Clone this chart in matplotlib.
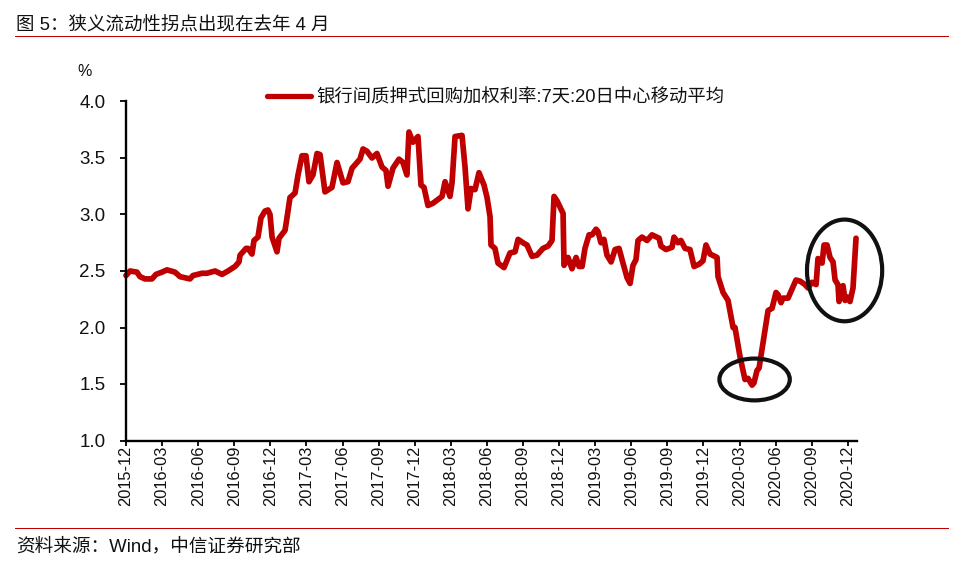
# -*- encoding: utf-8 -*-
"""
Interbank pledged repo rate, 20 day moving average.
"""
import matplotlib
matplotlib.use('Agg')
import matplotlib.pyplot as plt
from matplotlib.patches import Ellipse, Rectangle

plt.rcParams['font.family'] = ['Liberation Sans', 'Noto Sans CJK SC']

title = '图 5\uff1a狭义流动性拐点出现在去年 4 月'
source = '资料来源\uff1aWind\uff0c中信证券研究部'
series_name = '银行间质押式回购加权利率:7天:20日中心移动平均'

tick_labels = ['2015-12', '2016-03', '2016-06', '2016-09', '2016-12', '2017-03', '2017-06',
               '2017-09', '2017-12', '2018-03', '2018-06', '2018-09', '2018-12', '2019-03',
               '2019-06', '2019-09', '2019-12', '2020-03', '2020-06', '2020-09', '2020-12']
y_ticks = [1.0, 1.5, 2.0, 2.5, 3.0, 3.5, 4.0]

# months since 2015-12
months = [0, .33, .91, 1.16, 1.58, 2.16, 2.49, 2.99, 3.41, 4.07, 4.49, 5.32, 5.57, 6.32, 6.73,
          7.40, 7.98, 8.48, 9.06, 9.39, 9.48, 9.98, 10.14, 10.47, 10.64, 10.97, 11.22, 11.55,
          11.80, 11.97, 12.14, 12.55, 12.72, 13.22, 13.38, 13.63, 14.05, 14.30, 14.63, 14.96,
          15.21, 15.54, 15.88, 16.13, 16.54, 17.12, 17.54, 18.04, 18.45, 18.79, 19.45, 19.70,
          20.03, 20.45, 20.86, 21.28, 21.61, 21.78, 22.19, 22.69, 23.02, 23.35, 23.52, 23.85,
          24.27, 24.52, 24.77, 25.10, 25.52, 26.27, 26.52, 26.93, 27.10, 27.35, 27.93, 28.18,
          28.43, 28.68, 29.01, 29.34, 29.76, 30.01, 30.26, 30.34, 30.67, 30.92, 31.42, 31.92,
          32.34, 32.59, 33.00, 33.33, 33.75, 34.16, 34.66, 35.08, 35.41, 35.58, 35.83, 36.33,
          36.41, 36.74, 37.07, 37.41, 37.66, 37.91, 38.15, 38.49, 38.74, 39.07, 39.23, 39.48,
          39.73, 39.98, 40.32, 40.65, 40.98, 41.31, 41.65, 41.90, 42.14, 42.39, 42.56, 42.89,
          43.31, 43.72, 44.31, 44.47, 44.89, 45.39, 45.55, 45.89, 46.13, 46.47, 46.88, 47.22,
          47.63, 47.96, 48.21, 48.55, 49.13, 49.21, 49.63, 50.04, 50.46, 50.62, 51.04, 51.45,
          51.70, 52.04, 52.20, 52.45, 52.62, 53.37, 53.70, 54.03, 54.20, 54.45, 54.61, 55.03,
          55.69, 56.03, 56.44, 56.69, 57.02, 57.36, 57.52, 57.86, 58.02, 58.27, 58.52, 58.77,
          58.94, 59.18, 59.27, 59.60, 59.77, 59.93, 60.18, 60.43, 60.68]
rate = [2.46, 2.50, 2.49, 2.45, 2.43, 2.43, 2.47, 2.49, 2.51, 2.49, 2.45, 2.43, 2.46, 2.48, 2.48,
        2.50, 2.47, 2.50, 2.54, 2.58, 2.64, 2.70, 2.70, 2.65, 2.77, 2.80, 2.97, 3.03,
        3.04, 3.00, 2.80, 2.67, 2.79, 2.86, 2.97, 3.15, 3.19, 3.35, 3.52, 3.52,
        3.29, 3.35, 3.54, 3.53, 3.20, 3.24, 3.46, 3.28, 3.29, 3.41, 3.49, 3.58,
        3.56, 3.50, 3.54, 3.42, 3.39, 3.25, 3.41, 3.49, 3.46, 3.35, 3.73, 3.64,
        3.69, 3.26, 3.24, 3.08, 3.10, 3.16, 3.29, 3.16, 3.28, 3.69, 3.70, 3.42,
        3.05, 3.23, 3.22, 3.37, 3.26, 3.15, 2.98, 2.73, 2.70, 2.57, 2.53, 2.66,
        2.67, 2.78, 2.75, 2.73, 2.63, 2.64, 2.70, 2.72, 2.77, 3.16, 3.12, 3.01,
        2.55, 2.62, 2.52, 2.62, 2.54, 2.54, 2.70, 2.82, 2.82, 2.87, 2.85, 2.75,
        2.78, 2.64, 2.58, 2.69, 2.70, 2.57, 2.44, 2.39, 2.55, 2.60, 2.77, 2.80,
        2.77, 2.82, 2.79, 2.72, 2.69, 2.71, 2.80, 2.75, 2.77, 2.70, 2.69, 2.54,
        2.56, 2.59, 2.73, 2.65, 2.62, 2.45, 2.31, 2.24, 2.00, 2.00, 1.74, 1.54,
        1.55, 1.49, 1.51, 1.62, 1.64, 2.15, 2.17, 2.31, 2.29, 2.22, 2.26, 2.26,
        2.42, 2.41, 2.38, 2.35, 2.40, 2.38, 2.61, 2.57, 2.73, 2.73, 2.62, 2.58,
        2.42, 2.38, 2.23, 2.37, 2.24, 2.27, 2.23, 2.35, 2.79]

RED = '#C00000'
INK = '#111111'
W, H = 961.0, 571.0

fig = plt.figure(figsize=(W / 100, H / 100), dpi=100)
ax = fig.add_axes([126 / W, 1 - 440.5 / H, 730.5 / W, 339 / H])
ax.plot(months, rate, color=RED, lw=4.1, solid_joinstyle='round', solid_capstyle='round',
        clip_on=False, label=series_name)

ax.set_xlim(0, 60.72)
ax.set_ylim(1.0, 4.0)
ax.set_xticks([3 * i for i in range(len(tick_labels))])
ax.set_xticklabels(tick_labels, rotation=90, fontsize=11.8, color=INK)
ax.set_yticks(y_ticks)
ax.set_yticklabels(['%.1f' % v for v in y_ticks], fontsize=13.5, color=INK)
ax.tick_params(axis='x', length=3.5, width=1.3, pad=0, color='k')
ax.tick_params(axis='y', length=4.3, width=1.3, pad=10.5, color='k')
for side in ['top', 'right']:
    ax.spines[side].set_visible(False)
for side in ['left', 'bottom']:
    ax.spines[side].set_linewidth(1.7)

# hand drawn circles, sizes in data units
for cx, cy, w, h in [(52.25, 1.54, 5.85, 0.37), (59.73, 2.505, 6.25, 0.90)]:
    ax.add_patch(Ellipse((cx, cy), w, h, fill=False, ec=INK, lw=3.0, clip_on=False, zorder=3))

leg = ax.legend(loc='center left', bbox_to_anchor=(0.193, 1.012), frameon=False,
                fontsize=13.2, handlelength=2.4, handletextpad=0.27, borderpad=0,
                borderaxespad=0, labelcolor=INK)
leg.get_lines()[0].set_linewidth(3.8)

fig.text(84.5 / W, 1 - 71.5 / H, '%', fontsize=11.5, color=INK, ha='center', va='center')
fig.text(16 / W, 1 - 26 / H, title, fontsize=13.3, color=INK, ha='left', va='center')
fig.text(16 / W, 1 - 546 / H, source, fontsize=13.4, color=INK, ha='left', va='center')

# red rules above and below the chart, one pixel high
for py in [36, 528]:
    fig.add_artist(Rectangle((15 / W, 1 - (py + 1) / H), 934 / W, 1 / H,
                             transform=fig.transFigure, fc=RED, lw=0))

fig.savefig('out.png', dpi=100)
